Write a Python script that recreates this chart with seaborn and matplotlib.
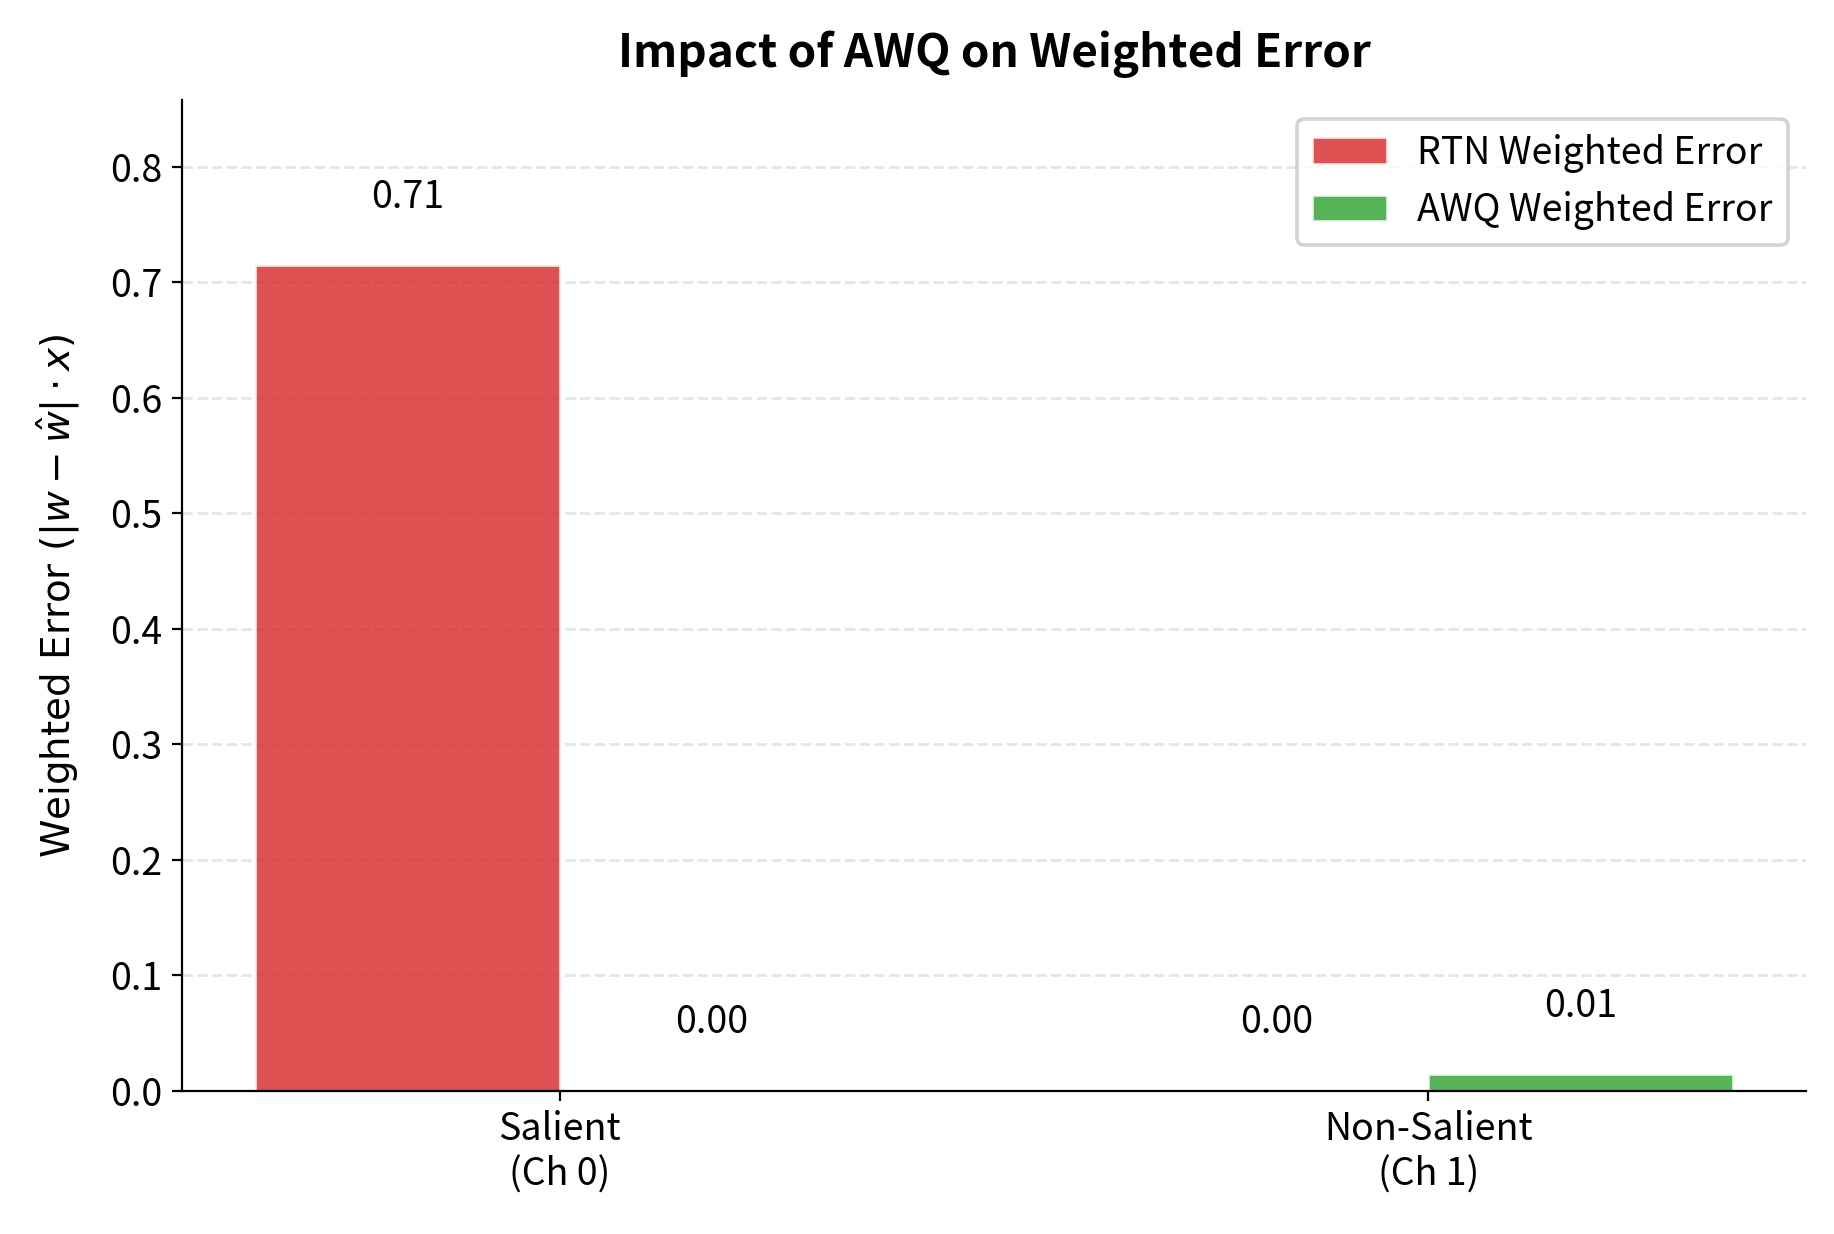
import matplotlib
matplotlib.use("Agg")
import matplotlib.pyplot as plt
import seaborn as sns
import pandas as pd

categories = ["Salient\n(Ch 0)", "Non-Salient\n(Ch 1)"]
rtn_error = [0.715, 0.0]
awq_error = [0.0, 0.0145]
series_names = ["RTN Weighted Error", "AWQ Weighted Error"]
series_colors = ["#d62728", "#2ca02c"]

sns.set_style("ticks")
plt.rcParams["font.family"] = ["Noto Sans CJK SC", "DejaVu Sans"]
plt.rcParams.update({
    "text.color": "black",
    "axes.labelcolor": "black",
    "xtick.color": "black",
    "ytick.color": "black",
    "axes.edgecolor": "black",
})

df = pd.DataFrame({
    "Channel": categories * 2,
    "Error": rtn_error + awq_error,
    "Method": [series_names[0]] * len(categories) + [series_names[1]] * len(categories),
})

fig, ax = plt.subplots(figsize=(9.17, 6.17), dpi=200)
fig.subplots_adjust(left=0.099, right=0.985, bottom=0.116, top=0.919)

sns.barplot(data=df, x="Channel", y="Error", hue="Method", order=categories,
            hue_order=series_names, palette=series_colors, width=0.7,
            alpha=0.8, saturation=1, ax=ax, errorbar=None)

for container in ax.containers:
    for bar in container:
        h = bar.get_height()
        ax.text(bar.get_x() + bar.get_width() / 2, h + 0.042, f"{h:.2f}",
                ha="center", va="bottom", fontsize=13.5)

ax.set_xlim(-0.435, 1.435)
ax.set_ylim(0, max(rtn_error + awq_error) * 1.2)
ax.set_xlabel("")
ax.set_ylabel(r"Weighted Error ($|w - \hat{w}| \cdot x$)", fontsize=14,
              family="DejaVu Sans", labelpad=10)
ax.set_title("Impact of AWQ on Weighted Error", fontsize=16.5, fontweight="bold", pad=12)
ax.tick_params(axis="both", labelsize=13.5)
ax.yaxis.grid(True, linestyle="--", color="#cccccc", alpha=0.5, linewidth=1.0)
ax.set_axisbelow(True)
sns.despine(ax=ax)
leg = ax.legend(loc="upper right", fontsize=13.5, frameon=True, fancybox=True)
leg.get_frame().set_edgecolor("#c8c8c8")
leg.get_frame().set_linewidth(1.3)
leg.get_frame().set_alpha(0.8)

fig.savefig("out.png", dpi=200)
